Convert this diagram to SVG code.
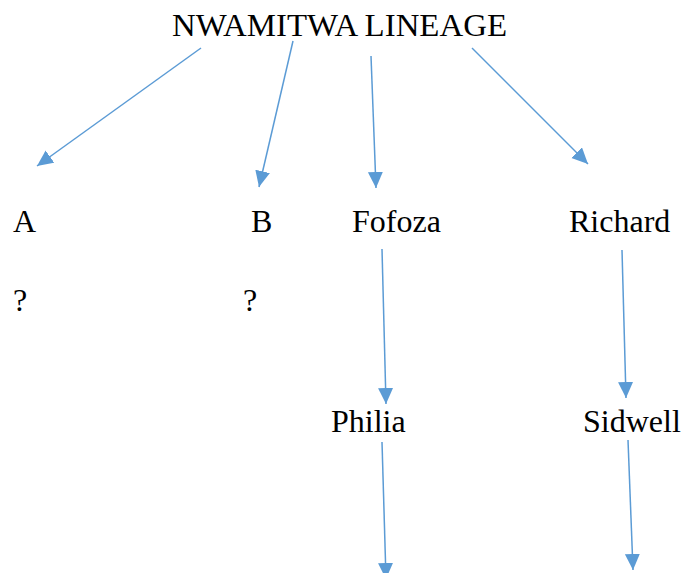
<svg xmlns="http://www.w3.org/2000/svg" width="684" height="573" viewBox="0 0 684 573">
<defs>
<style>
text{font-family:"Liberation Serif","Times New Roman",serif;font-size:32px;fill:#000}
.c line{stroke:#5B9BD5;stroke-width:1.5;fill:none;marker-end:url(#ah)}
</style>
<marker id="ah" markerUnits="userSpaceOnUse" markerWidth="17" markerHeight="16" refX="16" refY="7.5" orient="auto" viewBox="0 0 17 16">
<path d="M0,0 L16,7.5 L0,15 z" fill="#5B9BD5"/>
</marker>
</defs>
<rect width="684" height="573" fill="#fff"/>
<g id="title"><text x="172" y="36" textLength="335" lengthAdjust="spacingAndGlyphs">NWAMITWA LINEAGE</text></g>
<g id="nodeA"><text x="13" y="232">A</text></g>
<g id="nodeB"><text x="251" y="232">B</text></g>
<g id="fofoza"><text x="352" y="232">Fofoza</text></g>
<g id="richard"><text x="569" y="232">Richard</text></g>
<g id="qA"><text x="13" y="311">?</text></g>
<g id="qB"><text x="243" y="311">?</text></g>
<g id="philia"><text x="331" y="432">Philia</text></g>
<g id="sidwell"><text x="583" y="432">Sidwell</text></g>
<g class="c" id="connectors">
<line x1="201" y1="48" x2="37" y2="166"/>
<line x1="293" y1="41" x2="259" y2="187"/>
<line x1="371" y1="56" x2="376" y2="188"/>
<line x1="472" y1="48" x2="588" y2="164"/>
<line x1="382" y1="249" x2="386" y2="404"/>
<line x1="622" y1="250" x2="626" y2="398"/>
<line x1="382" y1="442" x2="386" y2="579"/>
<line x1="628" y1="440" x2="633" y2="570"/>
</g>
</svg>
